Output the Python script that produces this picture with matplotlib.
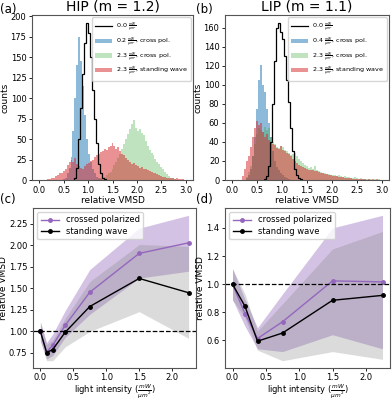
import matplotlib
matplotlib.use("Agg")
import matplotlib.pyplot as plt
import numpy as np

# ---- histogram data (counts per 0.04-wide bin, starting at the given left edge) ----
BIN_W = 0.04

hip_ref_start = 0.72
hip_ref = [3, 15, 50, 88, 130, 168, 192, 180, 150, 110, 75, 45, 20, 8, 3, 1]
hip_low_start = 0.48
hip_low = [1, 3, 8, 15, 28, 60, 100, 140, 175, 145, 115, 80, 50, 32, 22, 14,
           8, 4, 2, 1]
hip_cross_start = 1.20
hip_cross = [1, 2, 3, 4, 6, 8, 10, 14, 18, 22, 27, 32, 38, 44, 50, 56, 62, 68,
             73, 64, 60, 62, 58, 55, 48, 42, 37, 33, 30, 26, 22, 19, 16, 13, 10,
             7, 5, 3, 2, 1]
hip_stand_start = 0.16
hip_stand = [1, 1, 2, 3, 5, 6, 8, 9, 11, 14, 18, 22, 25, 22, 27, 20, 17, 15, 14,
             17, 19, 21, 23, 25, 28, 30, 32, 34, 36, 38, 37, 40, 42, 45, 41, 38,
             40, 35, 32, 30, 27, 25, 22, 20, 21, 18, 17, 15, 16, 14, 13, 12, 11,
             10, 9, 8, 7, 6, 5, 4, 4, 3, 2, 2, 2, 1, 2, 1, 1, 1]

lip_ref_start = 0.64
lip_ref = [1, 4, 15, 40, 80, 125, 160, 165, 155, 148, 130, 105, 82, 55, 30, 12,
           5, 2, 1]
lip_low_start = 0.28
lip_low = [2, 5, 12, 25, 45, 75, 105, 121, 100, 92, 75, 60, 45, 30, 20, 14, 10,
           7, 5, 3, 2, 1]
lip_cross_start = 0.28
lip_cross = [3, 8, 15, 25, 38, 48, 55, 52, 50, 56, 52, 55, 45, 40, 38, 35, 34,
             36, 35, 32, 30, 28, 26, 27, 28, 25, 22, 20, 18, 16, 15, 13, 14, 12,
             15, 11, 9, 8, 7, 7, 6, 6, 5, 5, 5, 4, 5, 4, 3, 4, 3, 3, 2, 2, 3, 2,
             1, 2, 1, 1, 1, 1, 1, 0, 1, 0, 1]
lip_stand_start = 0.20
lip_stand = [4, 12, 20, 25, 35, 45, 55, 62, 58, 60, 50, 45, 48, 42, 40, 38, 37,
             34, 33, 36, 32, 30, 28, 27, 25, 22, 20, 18, 16, 15, 14, 13, 12, 11,
             11, 10, 9, 9, 8, 7, 7, 6, 6, 5, 5, 4, 4, 4, 3, 3, 3, 2, 2, 2, 2, 1,
             1, 1, 1, 1, 1, 1, 0, 1, 0, 1, 0, 1]

# ---- relative VMSD vs light intensity ----
hip_x = [0.0, 0.094, 0.1875, 0.375, 0.75, 1.5, 2.25]
hip_cp = [1.0, 0.763, 0.84, 1.07, 1.456, 1.907, 2.03]
hip_cp_lo = [0.89, 0.68, 0.72, 0.93, 1.20, 1.62, 1.70]
hip_cp_hi = [1.11, 0.87, 0.97, 1.24, 1.72, 2.20, 2.35]
hip_sw = [1.0, 0.755, 0.79, 0.99, 1.29, 1.616, 1.45]
hip_sw_lo = [0.89, 0.66, 0.66, 0.82, 1.00, 1.23, 0.92]
hip_sw_hi = [1.11, 0.85, 0.90, 1.15, 1.58, 2.01, 1.99]

lip_x = [0.0, 0.1875, 0.375, 0.75, 1.5, 2.25]
lip_cp = [1.0, 0.79, 0.613, 0.732, 1.023, 1.016]
lip_cp_lo = [0.89, 0.70, 0.54, 0.52, 0.64, 0.54]
lip_cp_hi = [1.11, 0.89, 0.69, 0.93, 1.40, 1.49]
lip_sw = [1.0, 0.842, 0.594, 0.652, 0.885, 0.92]
lip_sw_lo = [0.89, 0.76, 0.53, 0.455, 0.52, 0.465]
lip_sw_hi = [1.11, 0.93, 0.665, 0.86, 1.25, 1.375]

UNIT = r"$\frac{mW}{\mu m^2}$"
UNIT_SMALL = r"$\genfrac{}{}{0.3}{2}{mW}{\mu m^2}$"

W, H = 392, 399
fig = plt.figure(figsize=(W / 100, H / 100), dpi=100)


def box(l, t, r, b):
    return [l / W, 1 - b / H, (r - l) / W, (b - t) / H]


def edges(start, counts):
    return start + BIN_W * np.arange(len(counts) + 1)


def style(ax):
    for s in ax.spines.values():
        s.set_color("#555555")
        s.set_linewidth(0.8)
    ax.tick_params(labelsize=6, length=2.5, width=0.6, pad=1.5)


def hist_panel(ax, title, ref, low, cross, stand, low_label):
    ax.stairs(ref[1], edges(ref[0], ref[1]), color="k", lw=0.9,
              label="0.0 " + UNIT_SMALL, zorder=5)
    ax.stairs(low[1], edges(low[0], low[1]), fill=True, color="tab:blue",
              alpha=0.5, lw=0, label=low_label)
    ax.stairs(cross[1], edges(cross[0], cross[1]), fill=True, color="tab:green",
              alpha=0.3, lw=0, label="2.3 " + UNIT_SMALL + ", cross pol.")
    ax.stairs(stand[1], edges(stand[0], stand[1]), fill=True, color="tab:red",
              alpha=0.5, lw=0, label="2.3 " + UNIT_SMALL + ", standing wave")
    ax.set_xlim(-0.15, 3.15)
    ax.set_ylim(bottom=0)
    ax.set_xticks(np.arange(0, 3.01, 0.5))
    ax.set_xlabel("relative VMSD", fontsize=6.5, labelpad=1)
    ax.set_ylabel("counts", fontsize=6.5, labelpad=1)
    ax.set_title(title, fontsize=10, pad=3)
    ax.legend(loc="upper right", fontsize=4.6, handlelength=2.6,
              borderpad=0.5, labelspacing=0.12, handletextpad=0.6,
              borderaxespad=0.35)
    style(ax)


def line_panel(ax, x, cp, cp_lo, cp_hi, sw, sw_lo, sw_hi):
    ax.fill_between(x, cp_lo, cp_hi, color="tab:purple", alpha=0.4, lw=0)
    ax.fill_between(x, sw_lo, sw_hi, color="gray", alpha=0.28, lw=0)
    ax.plot(x, cp, "-o", color="#9467bd", ms=2.5, lw=1.0,
            label="crossed polarized")
    ax.plot(x, sw, "-o", color="k", ms=2.5, lw=1.0, label="standing wave")
    ax.axhline(1.0, color="k", ls="--", lw=0.9)
    ax.set_xlabel("light intensity (" + UNIT + ")", fontsize=6, labelpad=0)
    ax.set_ylabel("relative VMSD", fontsize=6.5, labelpad=1)
    ax.legend(loc="upper left", fontsize=6, handlelength=2.2,
              borderpad=0.4, labelspacing=0.3)
    style(ax)
    ax.tick_params(axis="x", pad=1)


ax_a = fig.add_axes(box(32, 15, 193, 180))
hist_panel(ax_a, "HIP (m = 1.2)", (hip_ref_start, hip_ref),
           (hip_low_start, hip_low), (hip_cross_start, hip_cross),
           (hip_stand_start, hip_stand), "0.2 " + UNIT_SMALL + ", cross pol.")
ax_b = fig.add_axes(box(225, 15, 389, 180))
hist_panel(ax_b, "LIP (m = 1.1)", (lip_ref_start, lip_ref),
           (lip_low_start, lip_low), (lip_cross_start, lip_cross),
           (lip_stand_start, lip_stand), "0.4 " + UNIT_SMALL + ", cross pol.")

ax_c = fig.add_axes(box(33, 208, 196, 368))
line_panel(ax_c, hip_x, hip_cp, hip_cp_lo, hip_cp_hi, hip_sw, hip_sw_lo, hip_sw_hi)
ax_c.set_yticks(np.arange(0.75, 2.26, 0.25))
ax_d = fig.add_axes(box(225, 208, 390, 368))
line_panel(ax_d, lip_x, lip_cp, lip_cp_lo, lip_cp_hi, lip_sw, lip_sw_lo, lip_sw_hi)
ax_d.set_yticks([0.6, 0.8, 1.0, 1.2, 1.4])

for lbl, x, y in [("(a)", 0, 9), ("(b)", 196, 9), ("(c)", 0, 200), ("(d)", 196, 200)]:
    fig.text(x / W, 1 - y / H, lbl, fontsize=8.5, va="center", ha="left")

fig.savefig("out.png", dpi=100)
